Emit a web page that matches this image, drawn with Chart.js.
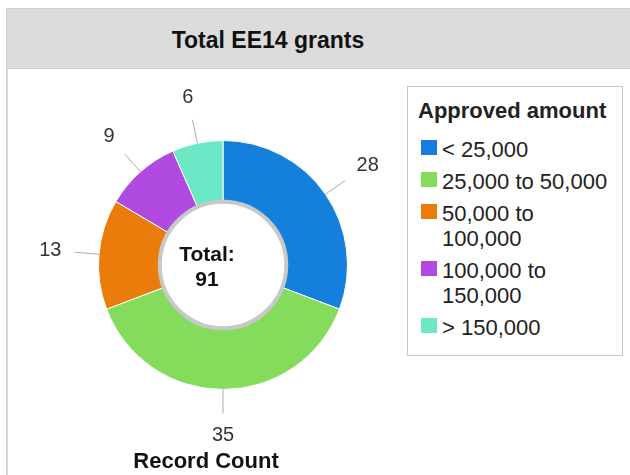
<!DOCTYPE html>
<html>
<head>
<meta charset="utf-8">
<script src="https://cdn.jsdelivr.net/npm/chart.js@4"></script>
<style>
  body { margin: 0; background: #fff; font-family: "Liberation Sans", Arial, sans-serif; }
  #card { position: absolute; left: 6px; top: 8px; width: 640px; height: 480px; border-left: 2px solid #d6d6d6; border-top: 1px solid #d0d0d0; }
  #head { height: 59px; background: #dcdcdc; border-bottom: 1px solid #cfcfcf;
          font-weight: bold; font-size: 23px; line-height: 62px; color: #111; }
  #head span { display: block; width: 520px; text-align: center; }
  #wrap { position: absolute; left: 0; top: 70px; width: 400px; height: 405px; }
  #legend { position: absolute; left: 407px; top: 86px; width: 214px; height: 268px;
            border: 1px solid #c8c8c8; background: #fff; color: #222; font-size: 22px; }
  #legend .title { font-weight: bold; font-size: 22px; line-height: 24px; margin: 12px 0 0 10px; }
  #legend .item { position: relative; padding-left: 34px; line-height: 25px; margin-top: 7px; }
  #legend .box { position: absolute; left: 13px; top: 3px; width: 16px; height: 15px; }
</style>
</head>
<body>
<div id="card"><div id="head"><span>Total EE14 grants</span></div></div>
<div id="wrap"><canvas id="pie" width="400" height="405"></canvas></div>
<div id="legend"><div class="title">Approved amount</div><div id="items" style="margin-top:14px"></div></div>
<script>
var categories = ['< 25,000', '25,000 to 50,000', '50,000 to\n100,000', '100,000 to\n150,000', '> 150,000'];
var counts = [28, 35, 13, 9, 6];
var barColors = ['#1480dc', '#85dc5c', '#ea7c0c', '#b04ae0', '#6ce8c6'];

// legend
var items = document.getElementById('items');
categories.forEach(function (c, i) {
    var d = document.createElement('div');
    d.className = 'item';
    if (i == 0) d.style.marginTop = '0px';
    d.innerHTML = '<span class="box" style="background:' + barColors[i] + '"></span>' + c.replace('\n', '<br>');
    items.appendChild(d);
});

var total = counts.reduce(function (a, b) { return a + b; }, 0);

var extras = {
    id: 'extras',
    afterDatasetsDraw: function (chart) {
        var c = chart.ctx;
        var arcs = chart.getDatasetMeta(0).data;
        var cx = arcs[0].x, cy = arcs[0].y;
        var outer = arcs[0].outerRadius, inner = arcs[0].innerRadius;
        // inner shadow ring
        c.save();
        c.beginPath();
        c.arc(cx, cy, inner + 1, 0, Math.PI * 2);
        c.strokeStyle = '#c8c8c8';
        c.lineWidth = 4;
        c.stroke();
        // leader lines and values
        c.font = '20px "Liberation Sans", Arial, sans-serif';
        c.textAlign = 'center';
        c.textBaseline = 'middle';
        arcs.forEach(function (a, i) {
            var mid = (a.startAngle + a.endAngle) / 2;
            var cs = Math.cos(mid), sn = Math.sin(mid);
            c.beginPath();
            c.moveTo(cx + cs * outer, cy + sn * outer);
            c.lineTo(cx + cs * (outer + 24), cy + sn * (outer + 24));
            c.strokeStyle = '#aaa';
            c.lineWidth = 1;
            c.stroke();
            var w = c.measureText(String(counts[i])).width;
            var d = outer + 37 + Math.abs(cs) * w / 2 + Math.abs(sn) * 9;
            c.fillStyle = '#333';
            c.fillText(counts[i], cx + cs * d, cy + sn * d);
        });
        // center total
        c.fillStyle = '#111';
        c.font = 'bold 21px "Liberation Sans", Arial, sans-serif';
        c.fillText('Total:', cx - 16, cy - 10);
        c.fillText(String(total), cx - 16, cy + 15);
        c.font = 'bold 22px "Liberation Sans", Arial, sans-serif';
        c.fillText('Record Count', cx - 17, 392);
        c.restore();
    }
};

new Chart(document.getElementById('pie').getContext('2d'), {
    type: 'doughnut',
    data: {
        labels: categories,
        datasets: [{
            data: counts,
            backgroundColor: barColors,
            borderColor: '#ffffff',
            borderWidth: 1
        }]
    },
    options: {
        responsive: false,
        animation: false,
        cutout: '50%',
        layout: { padding: { left: 98, right: 52, top: 70, bottom: 85 } },
        plugins: { legend: { display: false }, tooltip: { enabled: false } }
    },
    plugins: [extras]
});
</script>
</body>
</html>
